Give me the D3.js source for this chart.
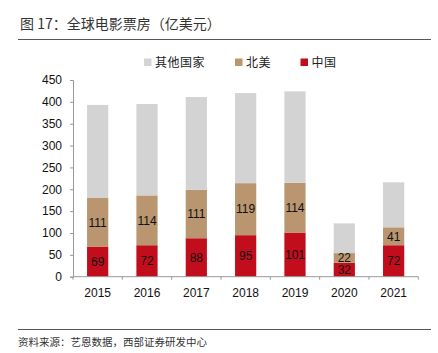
<!DOCTYPE html>
<html lang="zh">
<head>
<meta charset="UTF-8">
<title>全球电影票房</title>
<script src="https://d3js.org/d3.v7.min.js"></script>
<style>
  body { margin: 0; background: #fff; }
  text { font-family: "Liberation Sans", Arial, sans-serif; }
  .cjk { font-family: "Noto Sans CJK SC", sans-serif; }
</style>
</head>
<body>
<svg></svg>
<script>
  // 数据
  const years = ['2015', '2016', '2017', '2018', '2019', '2020', '2021']
  const china = [69, 72, 88, 95, 101, 32, 72]
  const northAmerica = [111, 114, 111, 119, 114, 22, 41]
  const others = [213, 209, 212, 206, 209, 68, 103]
  const seriesNames = ['其他国家', '北美', '中国']
  const yTicks = [0, 50, 100, 150, 200, 250, 300, 350, 400, 450]

  const width = 438
  const height = 353
  const colors = { '中国': '#c20d1d', '北美': '#b9966f', '其他国家': '#d3d3d3' }

  const svg = d3.select('svg').attr('width', width).attr('height', height)

  // 标题
  svg.append('text')
    .attr('class', 'cjk')
    .attr('x', 20).attr('y', 29)
    .attr('font-size', 14)
    .attr('fill', '#333')
    .text('图 17：全球电影票房（亿美元）')

  svg.append('line')
    .attr('x1', 18).attr('x2', 431).attr('y1', 39.5).attr('y2', 39.5)
    .attr('stroke', '#555').attr('stroke-width', 1)

  const x = d3.scaleBand().domain(years).range([73, 418.3]).paddingInner(0.57).paddingOuter(0.285)
  const y = d3.scaleLinear().domain([0, 450]).range([276.7, 80])

  const rows = years.map((yr, i) => ({ year: yr, '中国': china[i], '北美': northAmerica[i], '其他国家': others[i] }))
  const stacked = d3.stack().keys(['中国', '北美', '其他国家'])(rows)

  const bars = svg.append('g')
  stacked.forEach(s => {
    bars.append('g')
      .attr('fill', colors[s.key])
      .selectAll('rect')
      .data(s)
      .join('rect')
      .attr('x', d => x(d.data.year))
      .attr('width', x.bandwidth())
      .attr('y', d => y(d[1]))
      .attr('height', d => y(d[0]) - y(d[1]))
  })

  // 柱内数字（中国、北美）
  stacked.filter(s => s.key !== '其他国家').forEach(s => {
    svg.append('g')
      .selectAll('text')
      .data(s)
      .join('text')
      .attr('x', d => x(d.data.year) + x.bandwidth() / 2)
      .attr('y', d => (y(d[0]) + y(d[1])) / 2)
      .attr('dy', '0.36em')
      .attr('text-anchor', 'middle')
      .attr('font-size', 12)
      .attr('fill', '#111')
      .text(d => d[1] - d[0])
  })

  // y 轴
  const yAxis = svg.append('g')
    .attr('transform', 'translate(73,0)')
    .call(d3.axisLeft(y).tickValues(yTicks).tickSize(3).tickPadding(8))
  yAxis.selectAll('text').attr('font-size', 12).attr('fill', '#111')
    .style('font-family', '"Liberation Sans", Arial, sans-serif')
  yAxis.selectAll('line, path').attr('stroke', '#999')

  // x 轴（刻度在类别之间）
  const xAxisG = svg.append('g').attr('transform', `translate(0,${y(0)})`)
  xAxisG.append('line')
    .attr('x1', 73).attr('x2', 418.3)
    .attr('stroke', '#999')
  const step = x.step()
  xAxisG.selectAll('line.tk')
    .data(d3.range(years.length + 1))
    .join('line')
    .attr('class', 'tk')
    .attr('x1', i => 73 + i * step).attr('x2', i => 73 + i * step)
    .attr('y1', 0).attr('y2', 3)
    .attr('stroke', '#999')
  xAxisG.selectAll('text')
    .data(years)
    .join('text')
    .attr('x', d => x(d) + x.bandwidth() / 2)
    .attr('y', 20)
    .attr('text-anchor', 'middle')
    .attr('font-size', 12)
    .attr('fill', '#111')
    .text(d => d)

  // 图例
  const legendX = [144, 235, 300.5]
  const legend = svg.append('g')
  seriesNames.forEach((name, i) => {
    legend.append('rect')
      .attr('x', legendX[i]).attr('y', 58.5)
      .attr('width', 7.5).attr('height', 7.5)
      .attr('fill', colors[name])
    legend.append('text')
      .attr('class', 'cjk')
      .attr('x', legendX[i] + 11).attr('y', 62.5)
      .attr('dy', '0.36em')
      .attr('font-size', 12)
      .attr('letter-spacing', 0.5)
      .attr('fill', '#222')
      .text(name)
  })

  // 底部
  svg.append('line')
    .attr('x1', 18).attr('x2', 431).attr('y1', 329.5).attr('y2', 329.5)
    .attr('stroke', '#555').attr('stroke-width', 1)

  svg.append('text')
    .attr('class', 'cjk')
    .attr('x', 18).attr('y', 346)
    .attr('font-size', 10.5)
    .attr('fill', '#333')
    .text('资料来源：艺恩数据，西部证券研发中心')
</script>
</body>
</html>
